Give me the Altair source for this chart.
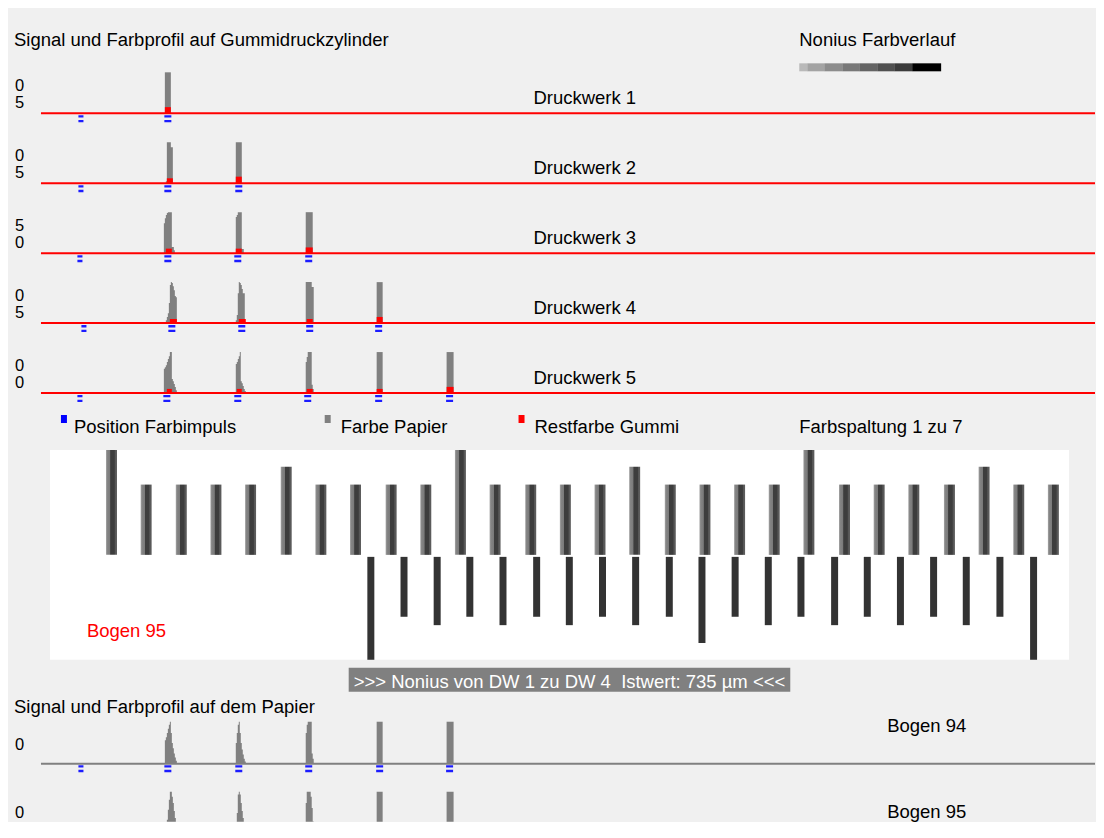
import altair as alt
import pandas as pd

FONT = "Liberation Sans"
FS = 18.5
BG = "#f0f0f0"
GREY = "#808080"
RED = "#ff0000"
BLUE = "#1c1cff"
W = 1088

# ---------------- data ----------------
gummi_titles = ["Druckwerk 1", "Druckwerk 2", "Druckwerk 3", "Druckwerk 4", "Druckwerk 5"]
gummi_axis_labels = [["0", "5"], ["0", "5"], ["5", "0"], ["0", "5"], ["0", "0"]]

# positions of the ink pulses (first one = weak reference pulse)
gummi_pulses = [
    [81, 168],
    [81, 168, 239],
    [80, 168, 238, 309],
    [84, 172, 242, 310, 379],
    [80, 167, 238, 308, 379, 450],
]

# ink profile on the blanket cylinder: start column and column values (%)
gummi_profile_starts = [
    [165],
    [166, 236],
    [164, 236, 306],
    [165, 236, 306, 377],
    [164, 236, 306, 377, 447],
]
gummi_profile_values = [
    [[100, 100, 100, 100, 100, 100]],
    [[5, 100, 100, 100, 100, 88, 88], [100, 100, 100, 100, 100, 100]],
    [[73, 85, 93, 98, 100, 100, 100, 100, 15, 15, 7],
     [88, 93, 100, 100, 100, 100, 10, 10],
     [100, 100, 100, 100, 100, 100, 100]],
    [[2, 7, 15, 24, 49, 93, 100, 98, 90, 80, 66, 63],
     [7, 20, 73, 100, 98, 93, 83, 73, 73],
     [100, 100, 100, 100, 100, 100, 88, 88],
     [100, 100, 100, 100, 100, 100]],
    [[59, 63, 68, 76, 83, 90, 100, 100, 34, 29, 22, 15, 7],
     [71, 76, 83, 90, 100, 29, 24, 17, 10, 5],
     [76, 88, 100, 100, 100, 100, 20, 10],
     [100, 100, 100, 100, 100, 100],
     [100, 100, 100, 100, 100, 100, 100]],
]

# rest ink on the blanket (Restfarbe Gummi): from, to, value (%)
rest_from = [[165], [167, 236], [166, 236, 306], [170, 239, 307, 377], [167, 237, 307, 377, 447]]
rest_to = [[171], [173, 242], [172, 242, 313], [177, 246, 313, 383], [172, 242, 313, 383, 454]]
rest_val = [[15], [12, 16], [11, 11, 14], [10, 10, 10, 15], [10, 10, 10, 10, 15]]

# paper (Bogen 94 / 95)
paper_titles = ["Bogen 94", "Bogen 95"]
paper_pulses = [[81, 168, 239, 309, 380, 450], [83, 170, 240, 310, 380, 450]]
paper_profile_starts = [[165, 236, 306, 377, 447], [164, 236, 305, 377, 447]]
paper_profile_values = [
    [[56, 63, 73, 83, 93, 100, 73, 49, 37, 24, 15, 7],
     [49, 73, 93, 100, 73, 49, 34, 22, 12, 5],
     [73, 93, 100, 100, 100, 100, 24, 12],
     [100, 100, 100, 100, 100, 100],
     [100, 100, 100, 100, 100, 100, 100]],
    [[7, 12, 19, 33, 57, 81, 100, 100, 88, 73, 54, 37, 22, 10],
     [20, 49, 93, 100, 93, 73, 54, 37, 20, 7],
     [10, 73, 100, 100, 100, 100, 88, 61, 29],
     [100, 100, 100, 100, 100, 100],
     [100, 100, 100, 100, 100, 100, 100]],
]

# Farbspaltung 1 zu 7 (Bogen 95)
split_up_pos = [107.5, 142.5, 178, 213, 248, 284, 319, 354, 390, 425, 460, 495, 531, 566,
                601, 636, 672, 707, 742, 777, 812, 848, 883, 918, 954, 989, 1024, 1059]
split_up_val = [100, 67, 67, 67, 67, 84, 67, 67, 67, 67, 100, 67, 67, 67,
                67, 84, 67, 67, 67, 67, 100, 67, 67, 67, 67, 84, 67, 67]
split_down_pos = [369.5, 403, 436.5, 469.5, 503, 537, 570, 603.5, 637, 671, 704,
                  737.5, 771, 804, 838, 871, 904.5, 938, 971, 1005, 1039]
split_down_val = [100, 59, 67, 59, 67, 59, 67, 59, 67, 59, 84,
                  59, 67, 59, 67, 59, 67, 59, 67, 59, 100]

# Nonius Farbverlauf
nonius_edges = [800, 808, 825, 843, 860, 878, 895, 913, 942]
nonius_colors = ["#b9b9b9", "#a3a3a3", "#8c8c8c", "#787878", "#646464", "#505050", "#3b3b3b", "#000000"]

banner_text = ">>> Nonius von DW 1 zu DW 4\u00a0 Istwert: 735 \u00b5m <<<"

# ---------------- helpers ----------------
xs = alt.Scale(domain=[8, 8 + W], nice=False, zero=False)


def X(f):
    return alt.X(f, scale=xs, axis=None)


def text_layer(t, x, y, color="black", align="left", size=FS):
    return alt.Chart(pd.DataFrame({"t": [t]})).mark_text(
        align=align, baseline="alphabetic", fontSize=size, font=FONT, color=color
    ).encode(x=alt.value(x), y=alt.value(y), text="t:N")


def profile_df(starts, values):
    recs = []
    for j, (s, vals) in enumerate(zip(starts, values)):
        for k, v in enumerate(vals):
            recs.append({"x": s + k, "h": v, "p": j})
        recs.append({"x": s + len(vals), "h": 0, "p": j})
    return pd.DataFrame(recs)


NARROW = "M-0.72,-1L0.72,-1L0.72,-0.33L-0.72,-0.33Z M-0.72,0.33L0.72,0.33L0.72,1L-0.72,1Z"
WIDE = "M-1,-1L1,-1L1,-0.33L-1,-0.33Z M-1,0.33L1,0.33L1,1L-1,1Z"


def signal_row(title, labels, starts, values, pulses, rest, height, line_top, ppu,
               line_color, title_x, title_y, label_ys, marker_off, clip=False):
    lo = -(height - line_top) / ppu
    hi = line_top / ppu
    ys = alt.Scale(domain=[lo, hi], nice=False, zero=False)
    Y = lambda f: alt.Y(f, scale=ys, axis=None)
    layers = []
    layers.append(
        alt.Chart(profile_df(starts, values)).mark_area(
            interpolate="step-after", color=GREY, clip=clip
        ).encode(x=X("x:Q"), y=Y("h:Q"), y2=alt.Y2Datum(0), detail="p:N")
    )
    if rest is not None:
        rf, rt, rv = rest
        layers.append(
            alt.Chart(pd.DataFrame({"a": rf, "b": rt, "v": rv})).mark_rect(color=RED, clip=clip)
            .encode(x=X("a:Q"), x2="b:Q", y=Y("v:Q"), y2=alt.Y2Datum(0))
        )
    layers.append(
        alt.Chart(pd.DataFrame({"a": [41], "b": [8 + W], "y": [0]})).mark_rule(
            color=line_color, strokeWidth=2, clip=clip
        ).encode(x=X("a:Q"), x2="b:Q", y=Y("y:Q"))
    )
    mk = pd.DataFrame({"x": pulses, "y": [0] * len(pulses), "k": ["n"] + ["w"] * (len(pulses) - 1)})
    for kind, shape in (("n", NARROW), ("w", WIDE)):
        layers.append(
            alt.Chart(mk).transform_filter(alt.datum.k == kind).mark_point(
                shape=shape, filled=True, size=49, color=BLUE, opacity=1,
                strokeWidth=0, yOffset=marker_off, clip=clip
            ).encode(x=X("x:Q"), y=Y("y:Q"))
        )
    layers.append(text_layer(title, title_x, title_y))
    for lab, ly in zip(labels, label_ys):
        layers.append(text_layer(lab, 7, ly, size=16.5))
    return alt.layer(*layers).properties(width=W, height=height)


# ---------------- header ----------------
nonius_df = pd.DataFrame({"a": nonius_edges[:-1], "b": nonius_edges[1:], "c": nonius_colors})
header = alt.layer(
    text_layer("Signal und Farbprofil auf Gummidruckzylinder", 6, 38),
    text_layer("Nonius Farbverlauf", 792, 38),
    alt.Chart(nonius_df).mark_rect().encode(
        x=X("a:Q"), x2="b:Q", y=alt.value(55), y2=alt.value(63),
        color=alt.Color("c:N", scale=None)
    ),
).properties(width=W, height=64)

# ---------------- blanket rows ----------------
rows = []
for i in range(5):
    h = 70 if i < 4 else 62
    rows.append(signal_row(
        gummi_titles[i], gummi_axis_labels[i], gummi_profile_starts[i], gummi_profile_values[i],
        gummi_pulses[i], (rest_from[i], rest_to[i], rest_val[i]), h, 41, 0.41, RED,
        526, 32, [19, 36], 5.5
    ))

# ---------------- legend ----------------
def sq(x0, color):
    return alt.Chart(pd.DataFrame({"a": [0]})).mark_rect(color=color).encode(
        x=alt.value(x0), x2=alt.value(x0 + 6), y=alt.value(1), y2=alt.value(9)
    )

legend = alt.layer(
    sq(53, "#0000ff"), text_layer("Position Farbimpuls", 66, 19),
    sq(317, GREY), text_layer("Farbe Papier", 333, 19),
    sq(511, RED), text_layer("Restfarbe Gummi", 527, 19),
    text_layer("Farbspaltung 1 zu 7", 792, 19),
).properties(width=W, height=36)

# ---------------- Farbspaltung panel ----------------
ysm = alt.Scale(domain=[-100, 100], nice=False, zero=False)
grad = alt.LinearGradient(
    gradient="linear", x1=0, x2=1, y1=0, y2=0,
    stops=[
        alt.GradientStop(offset=0, color="#a8a8a8"),
        alt.GradientStop(offset=0.12, color="#858585"),
        alt.GradientStop(offset=0.36, color="#7a7a7a"),
        alt.GradientStop(offset=0.42, color="#3d3d3d"),
        alt.GradientStop(offset=0.76, color="#3d3d3d"),
        alt.GradientStop(offset=0.82, color="#555555"),
        alt.GradientStop(offset=1, color="#5e5e5e"),
    ],
)
middle = alt.layer(
    alt.Chart(pd.DataFrame({"a": [0]})).mark_rect(color="white").encode(
        x=alt.value(42), x2=alt.value(1062), y=alt.value(0), y2=alt.value(210)
    ),
    alt.Chart(pd.DataFrame({"x": split_up_pos, "v": split_up_val})).mark_bar(size=11, color=grad)
    .encode(x=X("x:Q"), y=alt.Y("v:Q", scale=ysm, axis=None), y2=alt.Y2Datum(0)),
    alt.Chart(pd.DataFrame({"x": split_down_pos, "v": split_down_val}))
    .transform_calculate(neg="-datum.v")
    .mark_bar(size=7, color="#333333")
    .encode(x=X("x:Q"), y=alt.Y("neg:Q", scale=ysm, axis=None), y2=alt.Y2Datum(-1.9)),
    text_layer("Bogen 95", 79, 187, color=RED),
).properties(width=W, height=210)

# ---------------- banner + paper title ----------------
banner = alt.layer(
    alt.Chart(pd.DataFrame({"a": [0]})).mark_rect(color="#808080").encode(
        x=alt.value(341), x2=alt.value(783), y=alt.value(8), y2=alt.value(32)
    ),
    text_layer(banner_text, 562, 28, color="white", align="center"),
    text_layer("Signal und Farbprofil auf dem Papier", 6, 53),
).properties(width=W, height=60)

# ---------------- paper rows ----------------
paper1 = signal_row(paper_titles[0], ["0"], paper_profile_starts[0], paper_profile_values[0],
                    paper_pulses[0], None, 70, 44, 0.42, GREY, 880, 12, [30], 5.0)
paper2 = signal_row(paper_titles[1], ["0"], paper_profile_starts[1], paper_profile_values[1],
                    paper_pulses[1], None, 32, 44, 0.42, GREY, 880, 28, [28], 5.0, clip=True)

chart = alt.vconcat(
    header, *rows, legend, middle, banner, paper1, paper2, spacing=0, bounds="flush"
).resolve_scale(y="independent").properties(
    padding=0, background=BG
).configure_view(stroke=None)

chart.save("out.html", embed_options={"renderer": "svg", "actions": False})
